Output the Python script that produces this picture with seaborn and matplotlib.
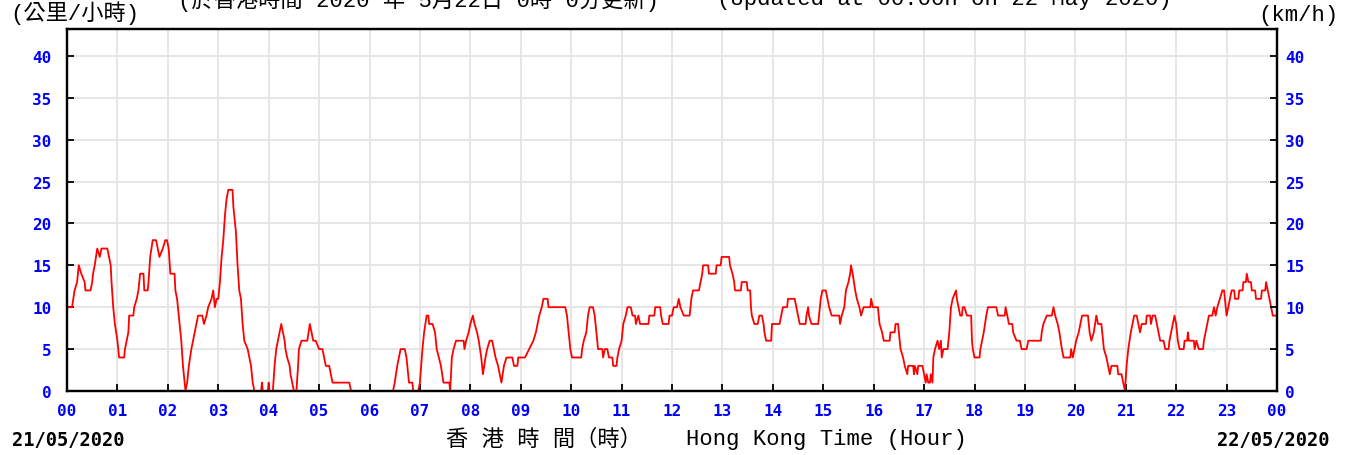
import matplotlib
matplotlib.use("Agg")
import matplotlib.pyplot as plt
import seaborn as sns
import pandas as pd
import numpy as np

# ---- data: 10-minute mean wind speed (km/h), minutes after 00:00 HKT 21/05/2020 ----
times = [0, 6, 9, 12, 14, 17, 21, 22, 28, 30, 31, 33, 36, 39, 41, 48, 50, 52, 53, 55, 57,
         60, 62, 68, 69, 71, 73, 74, 79, 80, 83, 85, 87, 91, 92, 96, 97, 99, 102, 106, 108, 110,
         114, 117, 119, 121, 123, 128, 129, 131, 133, 136, 138, 141, 143, 145, 148, 150, 152,
         154, 156, 161, 163, 166, 168, 172, 174, 176, 178, 180,
         182, 184, 186, 188, 190, 192, 197, 198, 201, 203, 205, 207, 209, 211, 215, 217, 219,
         221, 223, 231, 232, 233, 239, 240, 241,
         245, 247, 249, 251, 253, 255, 257, 259, 260, 262, 265, 266, 270, 273, 275, 276, 279,
         286, 289, 291, 293, 296, 300, 304, 306, 308, 312, 314, 316, 336, 338,
         388, 390, 393, 395, 397, 402, 404, 405, 407, 411, 412, 418, 420,
         423, 425, 428, 430, 431, 435, 438, 440, 445, 448, 455, 456, 457, 458, 460, 463, 472,
         473, 475, 478, 480,
         483, 485, 488, 490, 493, 495, 498, 500, 503, 506, 508, 510, 513, 515, 517, 520, 523,
         530, 532, 536, 537, 540,
         545, 550, 555, 558, 560, 562, 565, 567, 572, 573, 593, 595, 597, 599, 601,
         612, 613, 615, 618, 620, 622, 626, 628, 630, 632, 637, 638, 640, 643, 645, 649, 650,
         654, 655, 657, 660,
         662, 665, 667, 671, 673, 676, 677, 680, 682, 692, 693, 699, 700, 706, 707, 709, 716,
         717, 720,
         722, 726, 728, 730, 734, 741, 742, 743, 745, 752, 754, 756, 757, 763, 764, 772, 773,
         778, 779,
         788, 789, 792, 794, 795, 802, 803, 809, 810, 813, 814, 815, 818, 822, 824, 827, 829,
         830, 832, 838, 839,
         848, 850, 852, 857, 858, 866, 868, 870, 872, 879, 880, 882, 883, 886, 894, 895, 897, 899,
         903, 905, 907, 910, 919, 920, 922, 925, 927, 930, 932, 933, 935, 938, 940, 943, 945,
         948, 956, 957, 959,
         965, 967, 970, 972, 979, 980, 985, 986, 989, 990, 992, 995, 997, 1000, 1001, 1007,
         1008, 1009, 1012, 1013, 1018,
         1020, 1022, 1023, 1025, 1027, 1028, 1030, 1031, 1033, 1036, 1038, 1040, 1041, 1043,
         1048, 1050, 1052, 1054, 1058, 1059, 1061, 1063, 1065, 1066, 1068, 1071, 1076, 1077, 1078,
         1080, 1086, 1087, 1089, 1091, 1094, 1096, 1106, 1108, 1116, 1117, 1119, 1121, 1125,
         1126, 1130, 1134, 1136,
         1142, 1144, 1159, 1160, 1162, 1166, 1172, 1174, 1176, 1179, 1181, 1184, 1186, 1194,
         1195, 1197, 1199,
         1201, 1204, 1206, 1208, 1215, 1217, 1219, 1222, 1225, 1227, 1231, 1232, 1234, 1237,
         1239, 1241, 1243, 1250, 1251, 1255, 1257, 1259,
         1261, 1263, 1266, 1268, 1270, 1273, 1275, 1277, 1279, 1284, 1285, 1289, 1290, 1292,
         1295, 1297, 1299, 1301, 1305, 1307, 1311, 1312, 1314, 1316, 1318,
         1320, 1322, 1324, 1329, 1330, 1333, 1334, 1335, 1341, 1342, 1344, 1347, 1352, 1353,
         1355, 1357, 1359, 1363, 1365, 1367, 1369, 1372, 1375, 1377, 1378,
         1380, 1382, 1384, 1386, 1389, 1390, 1394, 1395, 1399, 1400, 1403, 1404, 1406, 1409,
         1410, 1414, 1415, 1421, 1422, 1426, 1427, 1429, 1431, 1433, 1435, 1440]

speeds = [10, 10, 12, 13, 15, 14, 13, 12, 12, 13, 14, 15, 17, 16, 17, 17, 16, 15, 13, 10, 8,
          6, 4, 4, 5, 6, 7, 9, 9, 10, 11, 12, 14, 14, 12, 12, 13, 16, 18, 18, 17, 16,
          17, 18, 18, 17, 14, 14, 12, 11, 9, 6, 3, 0, 1, 3, 5, 6, 7,
          8, 9, 9, 8, 9, 10, 11, 12, 10, 11, 11,
          13, 16, 18, 21, 23, 24, 24, 22, 19, 15, 12, 11, 8, 6, 5, 4, 3,
          1, 0, 0, 1, 0, 0, 1, 0,
          0, 3, 5, 6, 7, 8, 7, 6, 5, 4, 3, 2, 0, 0, 3, 5, 6,
          6, 8, 7, 6, 6, 5, 5, 4, 3, 3, 2, 1, 1, 0,
          0, 1, 3, 4, 5, 5, 4, 3, 1, 1, 0, 0, 1,
          5, 7, 9, 9, 8, 8, 7, 5, 3, 1, 1, 0, 2, 4, 5, 6, 6,
          5, 6, 7, 8,
          9, 8, 7, 6, 4, 2, 4, 5, 6, 6, 5, 4, 3, 2, 1, 3, 4,
          4, 3, 3, 4, 4,
          4, 5, 6, 7, 8, 9, 10, 11, 11, 10, 10, 9, 7, 5, 4,
          4, 5, 6, 7, 9, 10, 10, 9, 7, 5, 5, 4, 5, 5, 4, 4, 3,
          3, 4, 5, 6,
          8, 9, 10, 10, 9, 9, 8, 9, 8, 8, 9, 9, 10, 10, 9, 8, 8,
          9, 9,
          10, 10, 11, 10, 9, 9, 10, 11, 12, 12, 13, 14, 15, 15, 14, 14, 15,
          15, 16,
          16, 15, 14, 13, 12, 12, 13, 13, 12, 12, 10, 9, 8, 8, 9, 9, 8,
          7, 6, 6, 8,
          8, 9, 10, 10, 11, 11, 10, 9, 8, 8, 9, 10, 9, 8, 8, 9, 11, 12,
          12, 11, 10, 9, 9, 8, 9, 10, 12, 13, 14, 15, 14, 12, 11, 10, 9,
          10, 10, 11, 10,
          10, 8, 7, 6, 6, 7, 7, 8, 8, 7, 5, 4, 3, 2, 3, 3,
          2, 3, 2, 3, 3,
          2, 1, 2, 1, 1, 2, 1, 4, 5, 6, 5, 6, 4, 5,
          5, 7, 10, 11, 12, 11, 10, 9, 9, 10, 10, 9, 9, 6, 5,
          4, 4, 5, 6, 7, 9, 10, 10, 9, 9, 10, 9, 8, 8,
          7, 6, 6, 5,
          5, 6, 6, 7, 8, 9, 9, 10, 9, 8, 7, 5, 4, 4,
          5, 4, 5,
          6, 7, 8, 9, 9, 7, 6, 7, 9, 8, 8, 7, 5, 4,
          3, 2, 3, 3, 2, 2, 1, 0,
          3, 5, 7, 8, 9, 9, 8, 7, 8, 8, 9, 9, 8, 9,
          9, 8, 7, 6, 6, 5, 5, 6, 7, 8, 9,
          8, 6, 5, 5, 6, 6, 7, 6, 6, 5, 6, 5, 5, 6,
          7, 8, 9, 9, 10, 9, 10, 11, 12, 12, 11,
          9, 10, 11, 12, 12, 11, 11, 12, 12, 13, 13, 14, 13, 13,
          12, 12, 11, 11, 12, 12, 13, 12, 11, 10, 9, 9]

hour_ticks = list(range(25))
hour_labels = ["00", "01", "02", "03", "04", "05", "06", "07", "08", "09", "10", "11", "12",
               "13", "14", "15", "16", "17", "18", "19", "20", "21", "22", "23", "00"]
speed_ticks = [0, 5, 10, 15, 20, 25, 30, 35, 40]

title_zh = "(於香港時間 2020 年 5月22日 0時 0分更新)"
title_en = "(Updated at 00:00h on 22 May 2020)"
unit_zh = "(公里/小時)"
unit_en = "(km/h)"
xlabel_zh = "香 港 時 間（時）"
xlabel_en = "Hong Kong Time (Hour)"
date_start = "21/05/2020"
date_end = "22/05/2020"

# ---- styling ----
sns.set_style("white")
plt.rcParams['font.family'] = ['Liberation Mono', 'Noto Sans CJK TC', 'DejaVu Sans']

W, H = 1351, 456
fig = plt.figure(figsize=(W / 100, H / 100), dpi=100)
fig.patch.set_facecolor("white")

L, R, T, B = 67, 1277, 30, 392
ax = fig.add_axes([L / W, 1 - B / H, (R - L) / W, (B - T) / H])

df = pd.DataFrame({"hour": np.array(times) / 60.0, "speed": speeds})
sns.lineplot(data=df, x="hour", y="speed", ax=ax, color="#ff0000", linewidth=1.3,
             estimator=None, sort=False, zorder=3)

ax.set_xlim(0, 24)
ax.set_ylim(0, 43.2)
ax.set_xticks(hour_ticks)
ax.set_xticklabels(hour_labels)
ax.set_yticks(speed_ticks)
ax.set_yticklabels([str(v) for v in speed_ticks])
ax.set_xlabel("")
ax.set_ylabel("")
ax.grid(True, color="#e4e4e4", linewidth=1.3)
ax.set_axisbelow(True)

for s in ax.spines.values():
    s.set_color("black")
    s.set_linewidth(1.6)

tick_font = dict(family="DejaVu Sans Mono", weight="bold", size=11.5)
blue = "#0000ff"
ax.tick_params(axis="x", direction="in", length=5, width=1.3, color="black",
               pad=9, labelcolor=blue, top=False, bottom=True)
ax.tick_params(axis="y", direction="in", length=5, width=1.3, color="black",
               pad=11, labelcolor=blue, left=True, right=False)
for lab in ax.get_xticklabels() + ax.get_yticklabels():
    lab.set_fontproperties(matplotlib.font_manager.FontProperties(**tick_font))

ax2 = ax.twinx()
ax2.set_ylim(ax.get_ylim())
ax2.set_yticks(speed_ticks)
ax2.set_yticklabels([str(v) for v in speed_ticks])
ax2.tick_params(axis="y", direction="in", length=5, width=1.3, color="black",
                pad=6, labelcolor=blue, right=True)
for lab in ax2.get_yticklabels():
    lab.set_fontproperties(matplotlib.font_manager.FontProperties(**tick_font))
for s in ax2.spines.values():
    s.set_color("black")
    s.set_linewidth(1.6)
ax2.grid(False)


def px(x, y):
    return x / W, 1 - y / H


mix = ['Liberation Mono', 'Noto Sans CJK TC']
fig.text(*px(10, 13), unit_zh, ha="left", va="center", fontsize=16, family=mix, color="black")
fig.text(*px(178, 0), title_zh, ha="left", va="center", fontsize=16, family=mix, color="black")
fig.text(*px(717, 0), title_en, ha="left", va="center", fontsize=16, family=mix, color="black")
fig.text(*px(1258, 16), unit_en, ha="left", va="center", fontsize=16, family=mix, color="black")
fig.text(*px(446, 440), xlabel_zh, ha="left", va="center", fontsize=16, family=mix, color="black")
fig.text(*px(686, 440), xlabel_en, ha="left", va="center", fontsize=16, family=mix, color="black")
fig.text(*px(12, 441), date_start, ha="left", va="center", fontsize=13.5,
         family="DejaVu Sans Mono", weight="bold", color="black")
fig.text(*px(1330, 441), date_end, ha="right", va="center", fontsize=13.5,
         family="DejaVu Sans Mono", weight="bold", color="black")

fig.savefig("out.png", dpi=100)
